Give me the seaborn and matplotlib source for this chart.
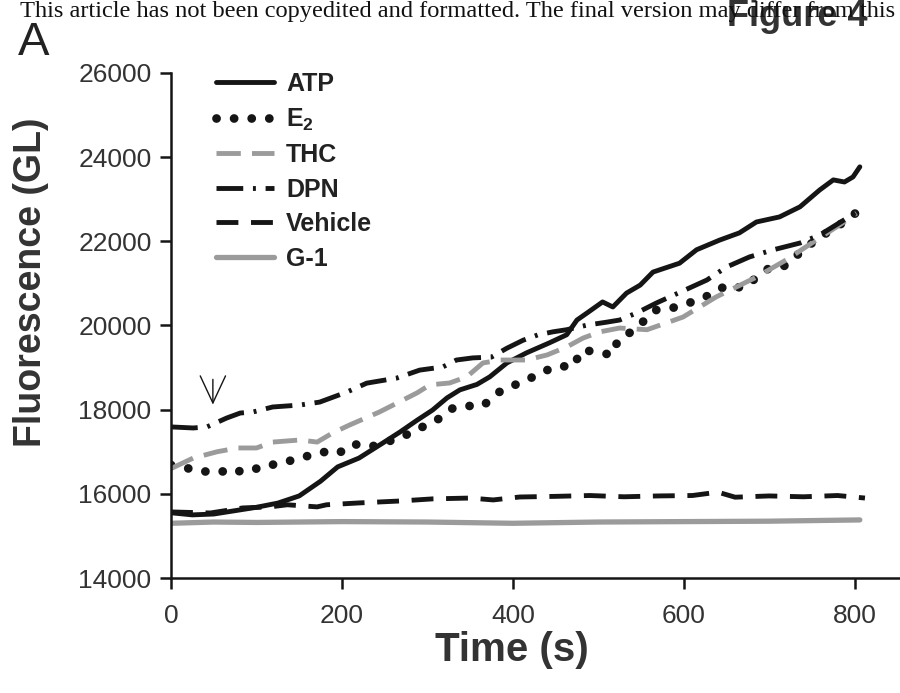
import matplotlib
matplotlib.use("Agg")
import matplotlib.pyplot as plt
import seaborn as sns
import pandas as pd
from matplotlib.lines import Line2D

# ---- data ----
atp_t = [0, 25, 50, 75, 100, 125, 150, 175, 195, 220, 248, 268, 288, 306, 323, 338, 358, 373, 393,
         416, 443, 463, 475, 487, 505, 517, 533, 549, 564, 595, 615, 642, 665, 685, 712, 736, 759,
         775, 788, 798, 806]
atp = [15550, 15500, 15520, 15600, 15680, 15780, 15950, 16300, 16640, 16850, 17210, 17470, 17750,
       17990, 18280, 18470, 18600, 18780, 19110, 19350, 19590, 19780, 20130, 20300, 20560, 20440,
       20770, 20960, 21270, 21480, 21800, 22030, 22200, 22460, 22580, 22820, 23220, 23460, 23410,
       23530, 23770]

e2_t = [0, 18, 36, 54, 72, 89, 106, 124, 143, 160, 178, 195, 213, 233, 268, 299, 315, 330, 347, 365,
        382, 399, 416, 435, 453, 470, 481, 498, 516, 523, 540, 568, 584, 621, 651, 669, 700, 716,
        744, 759, 779, 806]
e2 = [16686, 16615, 16520, 16567, 16470, 16615, 16590, 16730, 16800, 16900, 16995, 16950, 17185,
      17114, 17330, 17637, 17800, 18040, 18088, 18088, 18400, 18560, 18700, 18900, 19040, 19015,
      19420, 19370, 19300, 19650, 19870, 20370, 20400, 20630, 20963, 20890, 21367, 21390, 21866,
      22100, 22340, 22745]

thc_t = [0, 26, 54, 78, 100, 119, 151, 171, 189, 209, 244, 288, 303, 326, 346, 365, 385, 416, 440,
         463, 482, 502, 525, 557, 599, 638, 685, 720, 755, 786, 802]
thc = [16600, 16850, 17000, 17090, 17090, 17230, 17280, 17230, 17445, 17636, 17946, 18400, 18590,
       18634, 18780, 19110, 19180, 19180, 19300, 19490, 19700, 19850, 19940, 19900, 20200, 20680,
       21150, 21560, 22030, 22440, 22670]

dpn_t = [0, 26, 42, 65, 81, 96, 119, 151, 174, 206, 229, 264, 291, 318, 334, 353, 375, 393, 412,
         429, 447, 463, 487, 510, 525, 545, 568, 627, 650, 677, 704, 736, 759, 806]
dpn = [17590, 17565, 17590, 17800, 17920, 17945, 18064, 18110, 18180, 18420, 18630, 18750, 18940,
       19015, 19180, 19230, 19250, 19460, 19650, 19775, 19850, 19900, 20010, 20080, 20130, 20300,
       20535, 21080, 21390, 21630, 21795, 21960, 22150, 22740]

veh_t = [0, 46, 84, 116, 136, 171, 182, 221, 268, 306, 350, 377, 408, 450, 490, 530, 570, 610, 640,
         660, 700, 740, 780, 812]
veh = [15570, 15545, 15665, 15690, 15740, 15690, 15740, 15785, 15830, 15880, 15900, 15855, 15925,
       15940, 15960, 15930, 15950, 15960, 16040, 15920, 15950, 15930, 15960, 15900]

g1_t = [0, 50, 100, 200, 300, 400, 500, 600, 700, 806]
g1 = [15300, 15330, 15320, 15340, 15330, 15300, 15330, 15340, 15350, 15380]

labels = ["ATP", "E$_\\mathbf{2}$", "THC", "DPN", "Vehicle", "G-1"]

# ---- style ----
sns.set_theme(style="white")
plt.rcParams["font.family"] = ["Liberation Sans", "DejaVu Sans"]
plt.rcParams["mathtext.fontset"] = "custom"
plt.rcParams["mathtext.bf"] = "Liberation Sans:bold"
plt.rcParams["mathtext.rm"] = "Liberation Sans"

BLACK = "#151515"
GRAY = "#9b9b9b"

fig = plt.figure(figsize=(9, 6.93), dpi=100)
ax = fig.add_axes([171 / 900, 1 - 578 / 693, 1 - 171 / 900, (578 - 73) / 693])

series = [
    (atp_t, atp, dict(color=BLACK, lw=3.5, ls="-")),
    (e2_t, e2, dict(color=BLACK, lw=6.3, ls=(0, (0.01, 2.0)), dash_capstyle="round")),
    (thc_t, thc, dict(color=GRAY, lw=3.5, ls=(0, (5.0, 2.3)))),
    (dpn_t, dpn, dict(color=BLACK, lw=3.5, ls=(0, (5.5, 2.0, 0.6, 2.0)))),
    (veh_t, veh, dict(color=BLACK, lw=3.5, ls=(0, (4.5, 2.6)))),
    (g1_t, g1, dict(color=GRAY, lw=3.8, ls="-")),
]

handles = []
for (t, v, st), lab in zip(series, labels):
    df = pd.DataFrame({"Time": t, "Fluorescence": v})
    sns.lineplot(data=df, x="Time", y="Fluorescence", ax=ax, estimator=None, sort=False,
                 color=st["color"], linewidth=st["lw"], linestyle=st["ls"],
                 **({"dash_capstyle": st["dash_capstyle"]} if "dash_capstyle" in st else {}))
    h = Line2D([], [], color=st["color"], linewidth=st["lw"], linestyle=st["ls"])
    if "dash_capstyle" in st:
        h.set_dash_capstyle(st["dash_capstyle"])
    handles.append(h)

ax.set_xlim(0, 853)
ax.set_ylim(14000, 26000)
ax.set_xticks([0, 200, 400, 600, 800])
ax.set_yticks(range(14000, 26001, 2000))
for s in ["top", "right"]:
    ax.spines[s].set_visible(False)
for s in ["left", "bottom"]:
    ax.spines[s].set_color(BLACK)
    ax.spines[s].set_linewidth(1.8)
ax.tick_params(axis="both", direction="out", length=8, width=1.8, color=BLACK,
               labelsize=19, labelcolor="#333333", left=True, bottom=True)
ax.tick_params(axis="x", pad=11)
ax.tick_params(axis="y", pad=6)
ax.set_xlabel("Time (s)", fontsize=29, fontweight="bold", color="#333333")
ax.set_ylabel("Fluorescence (GL)", fontsize=27, fontweight="bold", color="#333333")
ax.xaxis.set_label_coords((512 - 171) / 729, -(650 - 578) / 505, transform=ax.transAxes)
ax.yaxis.set_label_coords(-(171 - 31) / 729, (578 - 282) / 505, transform=ax.transAxes)
ax.xaxis.label.set_va("center")
ax.yaxis.label.set_va("center")

# arrow at time of addition
ax.annotate("", xy=(49, 18120), xytext=(49, 18720),
            arrowprops=dict(arrowstyle="->,head_length=0.75,head_width=0.35", lw=1.0,
                            color=BLACK, mutation_scale=26, shrinkA=0, shrinkB=0))

leg = ax.legend(handles, labels, loc="upper left", bbox_to_anchor=(216 / 900, 1 - 72 / 693),
                bbox_transform=fig.transFigure, frameon=False, borderpad=0, borderaxespad=0,
                handlelength=2.3, handletextpad=0.5, labelspacing=0.42,
                prop={"size": 18, "weight": "bold"})
for txt in leg.get_texts():
    txt.set_color("#222222")

# page header texts (they overlap in the reference page as well)
fig.text(797 / 900, 1 - 17 / 693, "Figure 4", fontsize=26, fontweight="bold", va="center",
         ha="center", color="#333333", zorder=1)
fig.text(20 / 900, 1 - 12 / 693, "This article has not been copyedited and formatted. The final version may differ from this",
         fontsize=17.6, family=["Liberation Serif", "DejaVu Serif"], va="center", ha="left",
         color="#111111", zorder=2)
fig.text(18 / 900, 1 - 43 / 693, "A", fontsize=34, va="center", ha="left", color="#222222")

fig.savefig("out.png", dpi=100)
